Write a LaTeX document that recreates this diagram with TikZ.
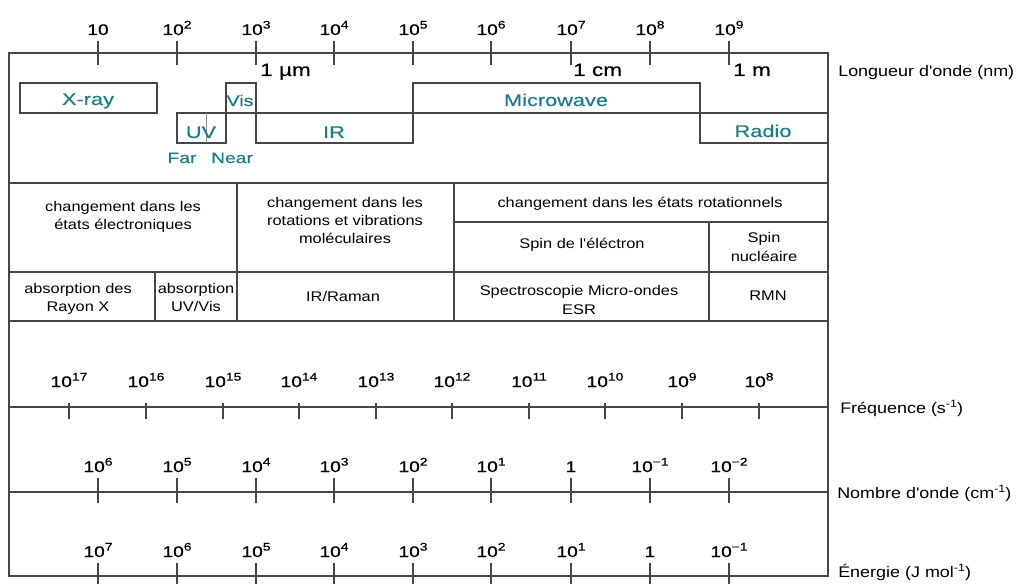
\documentclass[tikz,border=0pt]{standalone}
\usepackage{fontspec}
\setmainfont{Liberation Sans}
\newfontfamily\tickf{Liberation Sans}[FakeStretch=1.25,FakeBold=0.5]
\newfontfamily\bandf{Liberation Sans}[FakeStretch=1.28,FakeBold=0.4]
\newfontfamily\tabf{Liberation Sans}[FakeStretch=1.17]
\definecolor{bandcol}{RGB}{28,124,138}
\definecolor{lncol}{RGB}{70,70,70}
\newcommand\pw[1]{\raisebox{4.8pt}{\fontsize{8.3}{9}\selectfont #1}}
\newcommand\axp[1]{\raisebox{4.5pt}{\fontsize{8}{9}\selectfont #1}}
\begin{document}
\begin{tikzpicture}[x=0.75pt,y=-0.75pt,
  frame/.style={draw=lncol,line width=1.1pt},
  tickline/.style={draw=lncol,line width=1.1pt},
  divider/.style={draw=lncol!60,line width=0.6pt},
  tk/.style={inner sep=0pt,anchor=base,font=\tickf\fontsize{11.5}{13}\selectfont},
  band/.style={inner sep=0pt,anchor=base,text=bandcol,font=\bandf\fontsize{12.75}{14}\selectfont},
  bandsmall/.style={inner sep=0pt,anchor=base,text=bandcol,font=\bandf\fontsize{11.3}{13}\selectfont},
  tab/.style={inner sep=0pt,anchor=base,font=\tabf\fontsize{10.5}{12}\selectfont},
  axn/.style={inner sep=0pt,anchor=base west,font=\tabf\fontsize{11.5}{13}\selectfont},
  unit/.style={inner sep=0pt,anchor=base west,font=\tickf\fontsize{13.5}{15}\selectfont}]
\useasboundingbox (0,0) rectangle (1019,584);

% frame and horizontal rules
\draw[frame] (9,53) rectangle (828,576);
\draw[frame] (9,183) -- (828,183);
\draw[frame] (9,272) -- (828,272);
\draw[frame] (9,321) -- (828,321);
\draw[frame] (9,407) -- (828,407);
\draw[frame] (9,492) -- (828,492);
\draw[frame] (454,222) -- (828,222);
\draw[frame] (237,183) -- (237,321);
\draw[frame] (454,183) -- (454,321);
\draw[frame] (155,272) -- (155,321);
\draw[frame] (709,222) -- (709,321);

% spectral bands
\draw[frame] (20,83) rectangle (157,113);
\draw[frame] (226,83) rectangle (256,113);
\draw[frame] (177,113) rectangle (226,143);
\draw[divider] (206,113) -- (206,143);
\draw[frame] (256,113) rectangle (413,143);
\draw[frame] (413,83) rectangle (700,113);
\draw[frame] (700,113) rectangle (828,143);

\node[band] (xray) at (88,105) {X-ray};
\node[band, font=\bandf\fontsize{11.5}{13}\selectfont] (vis) at (240,106) {Vis};
\node[band] (uv) at (201,138) {UV};
\node[band] (ir) at (334,138) {IR};
\node[band] (mw) at (556,106) {Microwave};
\node[band] (radio) at (763,137) {Radio};
\node[bandsmall] (far) at (182,163) {Far};
\node[bandsmall] (near) at (232,163) {Near};

% wavelength axis
\foreach \x/\l [count=\i] in {98/10,177/10\pw{2},256/10\pw{3},334/10\pw{4},413/10\pw{5},491/10\pw{6},571/10\pw{7},650/10\pw{8},729/10\pw{9}}{
  \draw[tickline] (\x,41) -- (\x,65);
  \node[tk] (wl\i) at (\x,35) {\l};
}
\node[unit] (um) at (260,76) {1 µm};
\node[unit] (cm) at (573,76) {1 cm};
\node[unit] (m) at (733,76) {1 m};
\node[axn] (wlname) at (838,77) {Longueur d'onde (nm)};

% table texts
\node[tab] (t1a) at (123,212) {changement dans les};
\node[tab] (t1b) at (123,230) {états électroniques};
\node[tab] (t2a) at (345,208) {changement dans les};
\node[tab] (t2b) at (345,226) {rotations et vibrations};
\node[tab] (t2c) at (345,244) {moléculaires};
\node[tab] (t3) at (640,208) {changement dans les états rotationnels};
\node[tab] (t4) at (582,249) {Spin de l'éléctron};
\node[tab] (t5a) at (764,243) {Spin};
\node[tab] (t5b) at (764,262) {nucléaire};
\node[tab] (t6a) at (78,293) {absorption des};
\node[tab] (t6b) at (78,311) {Rayon X};
\node[tab] (t7a) at (196,293) {absorption};
\node[tab] (t7b) at (196,311) {UV/Vis};
\node[tab] (t8) at (343,301) {IR/Raman};
\node[tab] (t9a) at (579,296) {Spectroscopie Micro-ondes};
\node[tab] (t9b) at (579,314) {ESR};
\node[tab] (t10) at (768,300) {RMN};

% frequency axis
\foreach \x/\l [count=\i] in {69/17,146/16,223/15,299/14,376/13,452/12,529/11,605/10,682/9,759/8}{
  \draw[tickline] (\x,403) -- (\x,419);
  \node[tk] (fr\i) at (\x,387) {10\pw{\l}};
}
\node[axn] (frname) at (840,413) {Fréquence (s\axp{-1})};

% wavenumber axis
\foreach \x/\l [count=\i] in {98/10\pw{6},177/10\pw{5},256/10\pw{4},334/10\pw{3},413/10\pw{2},491/10\pw{1},571/1,650/10\pw{−1},729/10\pw{−2}}{
  \draw[tickline] (\x,478) -- (\x,503);
  \node[tk] (wn\i) at (\x,472) {\l};
}
\node[axn] (wnname) at (837,498) {Nombre d'onde (cm\axp{-1})};

% energy axis
\foreach \x/\l [count=\i] in {98/10\pw{7},177/10\pw{6},256/10\pw{5},334/10\pw{4},413/10\pw{3},491/10\pw{2},571/10\pw{1},650/1,729/10\pw{−1}}{
  \draw[tickline] (\x,563) -- (\x,590);
  \node[tk] (en\i) at (\x,557) {\l};
}
\node[axn] (enname) at (838,577) {Énergie (J mol\axp{-1})};
\end{tikzpicture}
\end{document}
